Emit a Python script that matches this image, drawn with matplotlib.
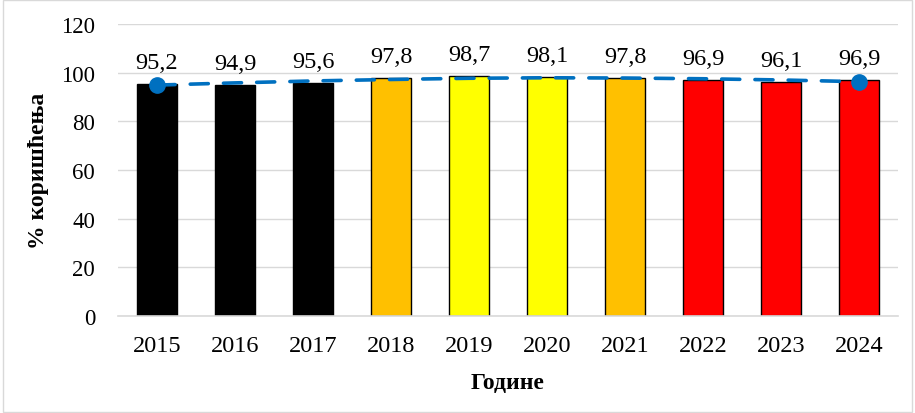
import matplotlib.pyplot as plt
from matplotlib.patches import Rectangle

years = ["2015", "2016", "2017", "2018", "2019", "2020", "2021", "2022", "2023", "2024"]
values = [95.2, 94.9, 95.6, 97.8, 98.7, 98.1, 97.8, 96.9, 96.1, 96.9]
labels = ["95,2", "94,9", "95,6", "97,8", "98,7", "98,1", "97,8", "96,9", "96,1", "96,9"]
bar_colors = ["#000000", "#000000", "#000000", "#FFC000", "#FFFF00",
              "#FFFF00", "#FFC000", "#FF0000", "#FF0000", "#FF0000"]
trend = [94.9, 95.8, 96.6, 97.2, 97.7, 97.9, 97.8, 97.5, 97.0, 96.3]

plt.rcParams['font.family'] = ['Liberation Serif', 'DejaVu Serif']

fig = plt.figure(figsize=(9.15, 4.14), dpi=100)
ax = fig.add_axes([0.129, 0.2343, 0.8524, 0.7053])

x = list(range(len(years)))
ax.bar(x, values, width=0.52, color=bar_colors, edgecolor="black", linewidth=1, zorder=2)
line, = ax.plot(x, trend, color="#0070C0", linestyle=(0, (5, 4.2)), linewidth=2.6,
                marker="o", markersize=11, markevery=[0, len(x) - 1], zorder=3)
line.set_dash_capstyle("round")

for xi, v, lab in zip(x, values, labels):
    ax.annotate(lab, (xi, v), xytext=(0, 8), textcoords="offset points",
                ha="center", va="bottom", fontsize=17.5)

ax.set_xlim(-0.5, len(x) - 0.5)
ax.set_ylim(0, 120)
ax.set_yticks(range(0, 121, 20))
ax.set_xticks(x)
ax.set_xticklabels(years)
ax.tick_params(axis="both", length=0)
ax.tick_params(axis="y", pad=16.5, labelsize=16.5)
ax.tick_params(axis="x", pad=14, labelsize=17.5)
ax.grid(axis="y", color="#D9D9D9", linewidth=1, zorder=0)
ax.set_axisbelow(True)
for s in ["top", "right", "left"]:
    ax.spines[s].set_visible(False)
ax.spines["bottom"].set_color("#D9D9D9")
ax.spines["bottom"].set_linewidth(1.2)

ax.set_ylabel("% коришћења", fontsize=17, fontweight="bold", labelpad=9)
ax.set_xlabel("Године", fontsize=17, fontweight="bold", labelpad=11)

fig.add_artist(Rectangle((0.003, 0.003), 0.994, 0.994, transform=fig.transFigure,
                         fill=False, edgecolor="#D9D9D9", linewidth=1))

fig.savefig("out.png", dpi=100)
